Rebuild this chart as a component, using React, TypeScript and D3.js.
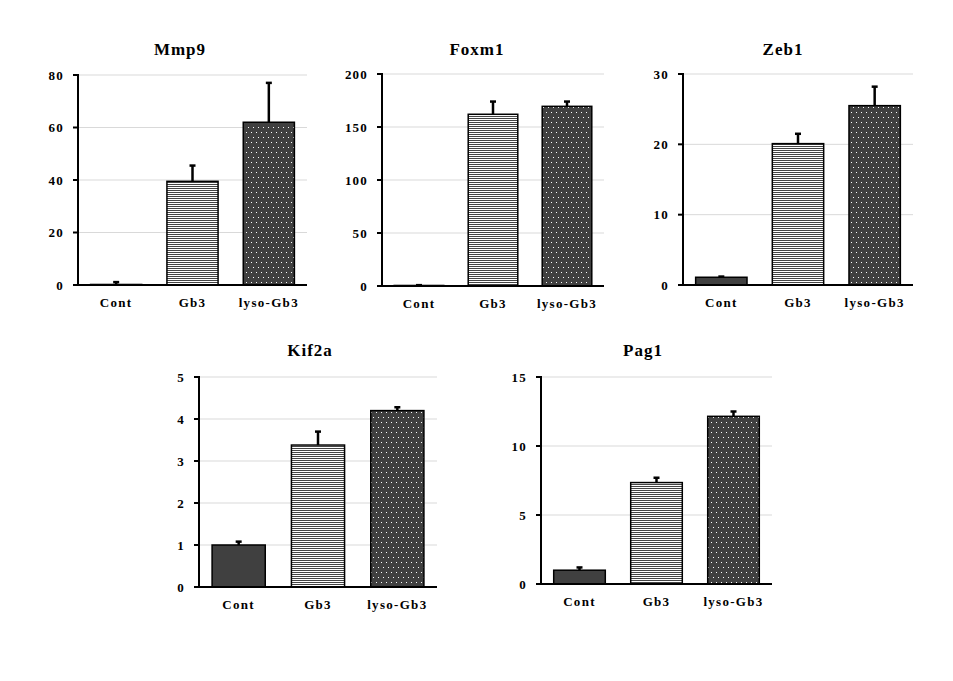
import React from "react";
import * as d3 from "d3";

const categories = ["Cont", "Gb3", "lyso-Gb3"];
const genes = ["Mmp9", "Foxm1", "Zeb1", "Kif2a", "Pag1"];

const mmp9Means = [0.2, 39.5, 62];
const mmp9Errors = [0.9, 6, 15];
const foxm1Means = [0.5, 162, 169.5];
const foxm1Errors = [0.3, 12, 4.5];
const zeb1Means = [1.1, 20.1, 25.5];
const zeb1Errors = [0.1, 1.4, 2.7];
const kif2aMeans = [1.0, 3.38, 4.2];
const kif2aErrors = [0.08, 0.32, 0.08];
const pag1Means = [1.0, 7.35, 12.15];
const pag1Errors = [0.2, 0.35, 0.35];

const mmp9Ticks = [0, 20, 40, 60, 80];
const foxm1Ticks = [0, 50, 100, 150, 200];
const zeb1Ticks = [0, 10, 20, 30];
const kif2aTicks = [0, 1, 2, 3, 4, 5];
const pag1Ticks = [0, 5, 10, 15];

const seriesMeans = [mmp9Means, foxm1Means, zeb1Means, kif2aMeans, pag1Means];
const seriesErrors = [mmp9Errors, foxm1Errors, zeb1Errors, kif2aErrors, pag1Errors];
const seriesTicks = [mmp9Ticks, foxm1Ticks, zeb1Ticks, kif2aTicks, pag1Ticks];

// layout: axis x, right x, top y, bottom y, title x, title y
const layout = [
  { x0: 78, x1: 307, y0: 75, y1: 285, tx: 180, ty: 55 },
  { x0: 382, x1: 604, y0: 74, y1: 286, tx: 477, ty: 55 },
  { x0: 683, x1: 913, y0: 74, y1: 285, tx: 783, ty: 55 },
  { x0: 199, x1: 437, y0: 377, y1: 587, tx: 310, ty: 356 },
  { x0: 541, x1: 772, y0: 377, y1: 584, tx: 643, ty: 356 },
];

const fills = ["#404040", "url(#stripes)", "url(#dots)"];
const font = "Liberation Serif";

function Panel({ idx }: { idx: number }) {
  const L = layout[idx];
  const means = seriesMeans[idx];
  const errs = seriesErrors[idx];
  const ticks = seriesTicks[idx];
  const yMax = ticks[ticks.length - 1];
  const y = d3.scaleLinear().domain([0, yMax]).range([L.y1, L.y0]);
  const x = d3
    .scaleBand<string>()
    .domain(categories)
    .range([L.x0, L.x1])
    .paddingInner(0.33)
    .paddingOuter(0.165);
  const ts = { fontFamily: font, fontWeight: 700 };
  return (
    <g>
      <text x={L.tx} y={L.ty} textAnchor="middle" style={{ ...ts, fontSize: 17, letterSpacing: 1 }}>
        {genes[idx]}
      </text>
      {ticks.slice(1).map((t) => (
        <line key={"g" + t} x1={L.x0} x2={L.x1} y1={y(t)} y2={y(t)} stroke="#d9d9d9" strokeWidth={1} />
      ))}
      {categories.map((c, i) => {
        const bx = x(c)!;
        const bw = x.bandwidth();
        const top = y(means[i]);
        const et = y(means[i] + errs[i]);
        const cx = bx + bw / 2;
        return (
          <g key={c}>
            <rect x={bx} y={top} width={bw} height={L.y1 - top} fill={fills[i]} stroke="#000" strokeWidth={1.5} />
            <line x1={cx} x2={cx} y1={top} y2={et} stroke="#000" strokeWidth={2.5} />
            <line x1={cx - 3} x2={cx + 3} y1={et} y2={et} stroke="#000" strokeWidth={2.5} />
            <text x={cx} y={L.y1 + 22} textAnchor="middle" style={{ ...ts, fontSize: 13, letterSpacing: 1.3 }}>
              {c}
            </text>
          </g>
        );
      })}
      {ticks.map((t) => (
        <g key={"t" + t}>
          <line x1={L.x0 - 5} x2={L.x0} y1={y(t)} y2={y(t)} stroke="#000" strokeWidth={2} />
          <text
            x={L.x0 - 14}
            y={y(t)}
            dy="0.35em"
            textAnchor="end"
            style={{ ...ts, fontSize: 13, letterSpacing: 1.2 }}
          >
            {t}
          </text>
        </g>
      ))}
      <line x1={L.x0} x2={L.x0} y1={L.y0 - 1} y2={L.y1} stroke="#000" strokeWidth={2} />
      <line x1={L.x0 - 5} x2={L.x1} y1={L.y1} y2={L.y1} stroke="#000" strokeWidth={2} />
    </g>
  );
}

export default function App() {
  return (
    <svg
      width={953}
      height={681}
      style={{ position: "absolute", left: 0, top: 0, background: "#fff" }}
    >
      <defs>
        <pattern id="stripes" patternUnits="userSpaceOnUse" width={4} height={2}>
          <rect x={0} y={0} width={4} height={2} fill="#fff" />
          <rect x={0} y={0} width={4} height={1} fill="#444" />
        </pattern>
        <pattern id="dots" patternUnits="userSpaceOnUse" width={5} height={10}>
          <rect x={0} y={0} width={5} height={10} fill="#404040" />
          <rect x={1} y={2} width={1} height={1} fill="#fff" />
          <rect x={3} y={7} width={1} height={1} fill="#fff" />
        </pattern>
      </defs>
      <rect x={0} y={0} width={953} height={681} fill="#fff" />
      {genes.map((g, i) => (
        <Panel key={g} idx={i} />
      ))}
    </svg>
  );
}
